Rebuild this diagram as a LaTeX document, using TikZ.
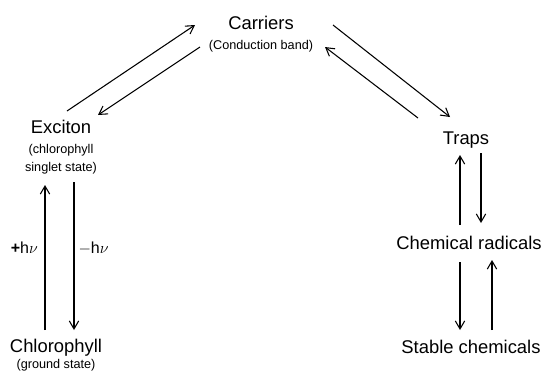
\documentclass[tikz,border=0pt]{standalone}
\usepackage{fontspec}
\setmainfont{Liberation Sans}
\usetikzlibrary{positioning,arrows.meta}
\newcommand{\subtxt}[1]{{\fontsize{9.5}{11}\selectfont #1}}

\begin{document}
\begin{tikzpicture}[x=0.75pt, y=-0.75pt, on grid,
    state/.style={align=center, inner sep=0pt, font=\fontsize{13.8}{15}\selectfont},
    flow/.style={-{Straight Barb[length=6pt,width=7pt]}, line width=0.8pt},
    hv/.style={font=\fontsize{12}{14}\selectfont, inner sep=0pt}]
    \useasboundingbox (0,0) rectangle (543,372);

    \node [state] (car) at (261,34) {Carriers\\\subtxt{(Conduction band)}};
    \node [state, below left=84.75pt and 150pt of car] (exc) {Exciton\\\subtxt{(chlorophyll}\\[-2pt]\subtxt{singlet state)}};
    \node [state, below=156pt of exc, xshift=-3.75pt] (chl) {Chlorophyll\\[-3pt]\subtxt{(ground state)}};
    \node [state, below right=79.5pt and 153.75pt of car] (trp) {Traps};
    \node [state, below=77.25pt of trp, xshift=2.25pt] (rad) {Chemical radicals};
    \node [state, below=78pt of rad, xshift=1.5pt] (stb) {Stable chemicals};

    \draw [flow] ([shift={(6,-36)}]exc.center) -- ([shift={(-66,-9)}]car.center);
    \draw [flow] ([shift={(-61,13)}]car.center) -- ([shift={(37,-32)}]exc.center);
    \draw [flow] ([shift={(72,-9)}]car.center) -- ([shift={(-16,-23)}]trp.center);
    \draw [flow] ([shift={(-48,-22)}]trp.center) -- ([shift={(64,13)}]car.center);

    \draw [flow] ([shift={(-11,-25)}]chl.center) -- node [hv, pos=0.566, left=5pt] (plus) {\textbf{+}h$\nu$} ([shift={(-16,38)}]exc.center);
    \draw [flow] ([shift={(13,35)}]exc.center) -- node [hv, pos=0.446, right=3pt] (minus) {$-$h$\nu$} ([shift={(18,-25)}]chl.center);

    \draw [flow] ([shift={(-9,-18)}]rad.center) -- ([shift={(-6,15)}]trp.center);
    \draw [flow] ([shift={(15,13)}]trp.center) -- ([shift={(12,-20)}]rad.center);
    \draw [flow] ([shift={(-9,19)}]rad.center) -- ([shift={(-11,-17)}]stb.center);
    \draw [flow] ([shift={(21,-17)}]stb.center) -- ([shift={(23,17)}]rad.center);
\end{tikzpicture}
\end{document}
